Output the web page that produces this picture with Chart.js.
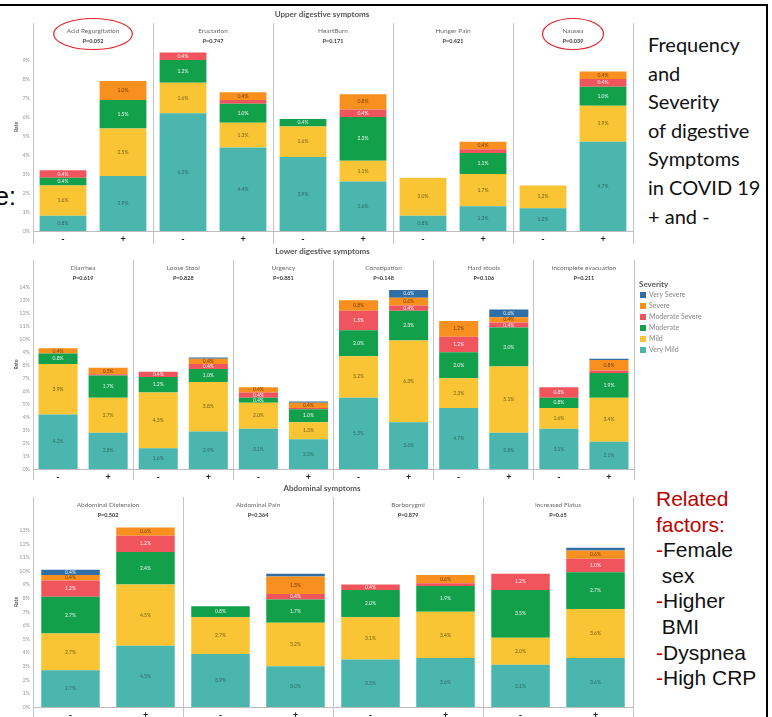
<!DOCTYPE html>
<html>
<head>
<meta charset="utf-8">
<script src="https://cdn.jsdelivr.net/npm/chart.js@4.4.1/dist/chart.umd.min.js"></script>
<style>
  html, body { margin: 0; padding: 0; background: #fff; width: 772px; height: 717px; overflow: hidden; position: relative; }
  canvas { position: absolute; }
  #frame { position: absolute; left: -5px; top: 4px; width: 773px; height: 740px; box-sizing: border-box;
           border-top: 2px solid #000; border-right: 2px solid #000; }
  #cut { position: absolute; left: -5px; top: 184px; font: 25px/25px "Liberation Sans", Arial, sans-serif; color: #000; }
  #headline { position: absolute; left: 648px; top: 30px; font: 20px/28.6px Lato, "Open Sans", sans-serif; color: #111; }
  #factors { position: absolute; left: 656px; top: 486px; font: 21px/25.6px "Liberation Sans", Arial, sans-serif; color: #111; }
  #factors .r { color: #c00000; }
</style>
</head>
<body>
<div id="frame"></div>
<div id="cut">e:</div>
<canvas id="upper" width="640" height="240" style="left:0;top:8px;width:640px;height:240px"></canvas>
<canvas id="lower" width="720" height="232" style="left:0;top:248px;width:720px;height:232px"></canvas>
<canvas id="abdominal" width="640" height="237" style="left:0;top:480px;width:640px;height:237px"></canvas>
<div id="headline">Frequency<br>and<br>Severity<br>of digestive<br>Symptoms<br>in COVID 19<br>+ and -</div>
<div id="factors"><span class="r">Related</span><br><span class="r">factors:</span><br><span class="r">-</span>Female<br>&nbsp;sex<br><span class="r">-</span>Higher<br>&nbsp;BMI<br><span class="r">-</span>Dyspnea<br><span class="r">-</span>High CRP</div>

<script>
// Severity levels, bottom of each stack first
const severityLevels = ['Very Mild', 'Mild', 'Moderate', 'Moderate Severe', 'Severe', 'Very Severe'];
const severityColors = ['#4bb6ad', '#f9c534', '#13a04b', '#f0545c', '#f7901e', '#2f6ea6'];
const severityTextColors = ['#2c6b66', '#7b5d12', '#e9f6ec', '#fff1f2', '#7c3d06', '#e8f0f8'];
const groupLabels = ['-', '+'];   // COVID-19 negative / positive

// Upper digestive symptoms (rate, %), pairs of [-, +] per symptom
const upperSymptoms = ['Acid Regurgitation', 'Eructation', 'HeartBurn', 'Hunger Pain', 'Nausea'];
const upperPValues = ['P=0.052', 'P=0.747', 'P=0.171', 'P=0.421', 'P=0.039'];
const upperFlagged = ['Acid Regurgitation', 'Nausea'];
const upperVeryMild   = [0.8, 2.9, 6.2, 4.4, 3.9, 2.6, 0.8, 1.3, 1.2, 4.7];
const upperMild       = [1.6, 2.5, 1.6, 1.3, 1.6, 1.1, 2.0, 1.7, 1.2, 1.9];
const upperModerate   = [0.4, 1.5, 1.2, 1.0, 0.4, 2.3, 0.0, 1.1, 0.0, 1.0];
const upperModSevere  = [0.4, 0.0, 0.4, 0.2, 0.0, 0.4, 0.0, 0.2, 0.0, 0.4];
const upperSevere     = [0.0, 1.0, 0.0, 0.4, 0.0, 0.8, 0.0, 0.4, 0.0, 0.4];
const upperVerySevere = [0.0, 0.0, 0.0, 0.0, 0.0, 0.0, 0.0, 0.0, 0.0, 0.0];

// Lower digestive symptoms
const lowerSymptoms = ['Diarrhea', 'Loose Stool', 'Urgency', 'Constipation', 'Hard stools', 'Incomplete evacuation'];
const lowerPValues = ['P=0.619', 'P=0.828', 'P=0.881', 'P=0.148', 'P=0.106', 'P=0.211'];
const lowerVeryMild   = [4.2, 2.8, 1.6, 2.9, 3.1, 2.3, 5.5, 3.6, 4.7, 2.8, 3.1, 2.1];
const lowerMild       = [3.9, 2.7, 4.3, 3.8, 2.0, 1.3, 3.2, 6.3, 2.3, 5.1, 1.6, 3.4];
const lowerModerate   = [0.8, 1.7, 1.2, 1.0, 0.4, 1.0, 2.0, 2.3, 2.0, 3.0, 0.8, 1.9];
const lowerModSevere  = [0.0, 0.1, 0.4, 0.4, 0.4, 0.1, 1.5, 0.4, 1.2, 0.4, 0.8, 0.2];
const lowerSevere     = [0.4, 0.5, 0.0, 0.4, 0.4, 0.4, 0.8, 0.6, 1.2, 0.4, 0.0, 0.8];
const lowerVerySevere = [0.0, 0.0, 0.0, 0.1, 0.0, 0.1, 0.0, 0.6, 0.0, 0.6, 0.0, 0.1];

// Abdominal symptoms
const abdSymptoms = ['Abdominal Distension', 'Abdominal Pain', 'Borborygmi', 'Increased Flatus'];
const abdPValues = ['P=0.502', 'P=0.364', 'P=0.879', 'P=0.65'];
const abdVeryMild   = [2.7, 4.5, 3.9, 3.0, 3.5, 3.6, 3.1, 3.6];
const abdMild       = [2.7, 4.5, 2.7, 3.2, 3.1, 3.4, 2.0, 3.6];
const abdModerate   = [2.7, 2.4, 0.8, 1.7, 2.0, 1.9, 3.5, 2.7];
const abdModSevere  = [1.2, 1.2, 0.0, 0.4, 0.4, 0.2, 1.2, 1.0];
const abdSevere     = [0.4, 0.6, 0.0, 1.3, 0.0, 0.6, 0.0, 0.6];
const abdVerySevere = [0.4, 0.0, 0.0, 0.2, 0.0, 0.0, 0.0, 0.2];

const family = 'Lato, "Open Sans", sans-serif';
const dividerColor = '#c4c4c4';

// Symptom headers, P-values and the row title above each block of panels
const panelHeaders = {
  id: 'panelHeaders',
  afterDraw(chart, args, o) {
    const { ctx, chartArea: a, scales: { x } } = chart;
    ctx.save();
    ctx.textAlign = 'center';
    ctx.textBaseline = 'middle';
    ctx.fillStyle = '#555';
    ctx.font = `bold 8px ${family}`;
    ctx.fillText(o.title, (a.left + a.right) / 2 - 11, a.top - 8.5);
    o.symptoms.forEach((name, i) => {
      const cx = (x.getPixelForValue(2 * i) + x.getPixelForValue(2 * i + 1)) / 2;
      ctx.fillStyle = '#6a6a6a';
      ctx.font = `6.5px ${family}`;
      ctx.fillText(name, cx, a.top + 8);
      const w = ctx.measureText(name).width;
      ctx.fillStyle = '#3a3a3a';
      ctx.font = `bold 5.5px ${family}`;
      ctx.fillText(o.pValues[i], cx, a.top + 18.5);
      if ((o.flagged || []).includes(name)) {
        ctx.strokeStyle = '#e1262c';
        ctx.lineWidth = 1.2;
        ctx.beginPath();
        ctx.ellipse(cx, a.top + 11, Math.max(w / 2 + 13, 30.5), 15.5, 0, 0, Math.PI * 2);
        ctx.stroke();
      }
    });
    ctx.restore();
  }
};

// Percentage printed inside each segment that is tall enough
const segmentLabels = {
  id: 'segmentLabels',
  afterDatasetsDraw(chart) {
    const { ctx } = chart;
    ctx.save();
    ctx.textAlign = 'center';
    ctx.textBaseline = 'middle';
    ctx.font = `5px ${family}`;
    chart.data.datasets.forEach((ds, di) => {
      chart.getDatasetMeta(di).data.forEach((bar, j) => {
        const v = ds.data[j];
        if (v >= 0.3) {
          ctx.fillStyle = severityTextColors[di];
          ctx.fillText(v.toFixed(1) + '%', bar.x, (bar.y + bar.base) / 2);
        }
      });
    });
    ctx.restore();
  }
};

// Severity key to the right of the plot, most severe first
const severityKey = {
  id: 'severityKey',
  afterDraw(chart, args, o) {
    if (!o.show) return;
    const { ctx, chartArea: a } = chart;
    const x0 = a.right + 6;
    ctx.save();
    ctx.textBaseline = 'middle';
    ctx.textAlign = 'left';
    ctx.fillStyle = '#555';
    ctx.font = `bold 8px ${family}`;
    ctx.fillText('Severity', x0 - 1, a.top + 24);
    const ds = chart.data.datasets;
    ds.map((d, i) => i).reverse().forEach((di, k) => {
      const y = a.top + 35 + k * 11;
      ctx.fillStyle = ds[di].backgroundColor;
      ctx.fillRect(x0, y - 3, 6, 6);
      ctx.fillStyle = '#8a8a8a';
      ctx.font = `7px ${family}`;
      ctx.fillText(ds[di].label, x0 + 9, y);
    });
    ctx.restore();
  }
};

function buildRow(id, title, symptoms, pValues, series, o) {
  const labels = symptoms.flatMap(() => groupLabels);
  const datasets = severityLevels.map((name, i) => ({
    label: name,
    data: series[i],
    backgroundColor: severityColors[i],
    borderWidth: 0,
    barPercentage: 0.78,
    categoryPercentage: 1
  }));
  return new Chart(document.getElementById(id), {
    type: 'bar',
    data: { labels, datasets },
    options: {
      responsive: false,
      animation: false,
      devicePixelRatio: 1,
      layout: { padding: { top: o.padTop, right: o.padRight, left: 0, bottom: 0 } },
      plugins: {
        legend: { display: false },
        tooltip: { enabled: false },
        panelHeaders: { title, symptoms, pValues, flagged: o.flagged },
        severityKey: { show: !!o.key }
      },
      scales: {
        x: {
          stacked: true,
          offset: true,
          grid: {
            offset: true,
            tickLength: o.tickLength,
            lineWidth: 1,
            color: (c) => (c.type !== 'tick' || c.index % 2 === 0) ? dividerColor : 'rgba(0,0,0,0)'
          },
          border: { display: true, color: '#bdbdbd' },
          ticks: { autoSkip: false, maxRotation: 0, padding: o.tickPad, color: '#222',
                   font: { size: 9, weight: 'bold', family } },
          afterFit: (s) => { s.height = o.xHeight; }
        },
        y: {
          stacked: true,
          min: 0,
          max: o.max,
          grid: { display: false, drawTicks: false },
          border: { display: false },
          ticks: {
            stepSize: 1,
            autoSkip: false,
            padding: 3,
            color: '#9a9a9a',
            font: { size: 5.5, family },
            callback: (v) => (Math.abs(v - Math.round(v)) < 1e-6 && v <= o.lastTick + 1e-6) ? Math.round(v) + '%' : null
          },
          title: { display: true, text: 'Rate', color: '#555', font: { size: 5, weight: 'bold', family },
                   padding: { top: 13, bottom: 0 } },
          afterFit: (s) => { s.width = 33; }
        }
      }
    },
    plugins: [panelHeaders, segmentLabels, severityKey]
  });
}

buildRow('upper', 'Upper digestive symptoms', upperSymptoms, upperPValues,
  [upperVeryMild, upperMild, upperModerate, upperModSevere, upperSevere, upperVerySevere],
  { padTop: 15, padRight: 7, xHeight: 17, tickLength: 13, tickPad: -10, max: 10.95, lastTick: 9, flagged: upperFlagged });

buildRow('lower', 'Lower digestive symptoms', lowerSymptoms, lowerPValues,
  [lowerVeryMild, lowerMild, lowerModerate, lowerModSevere, lowerSevere, lowerVerySevere],
  { padTop: 12, padRight: 86, xHeight: 11, tickLength: 11, tickPad: -8.5, max: 16.11, lastTick: 14, key: true });

buildRow('abdominal', 'Abdominal symptoms', abdSymptoms, abdPValues,
  [abdVeryMild, abdMild, abdModerate, abdModSevere, abdSevere, abdVerySevere],
  { padTop: 17, padRight: 7, xHeight: 10, tickLength: 10, tickPad: -7.5, max: 15.44, lastTick: 13 });
</script>
</body>
</html>
